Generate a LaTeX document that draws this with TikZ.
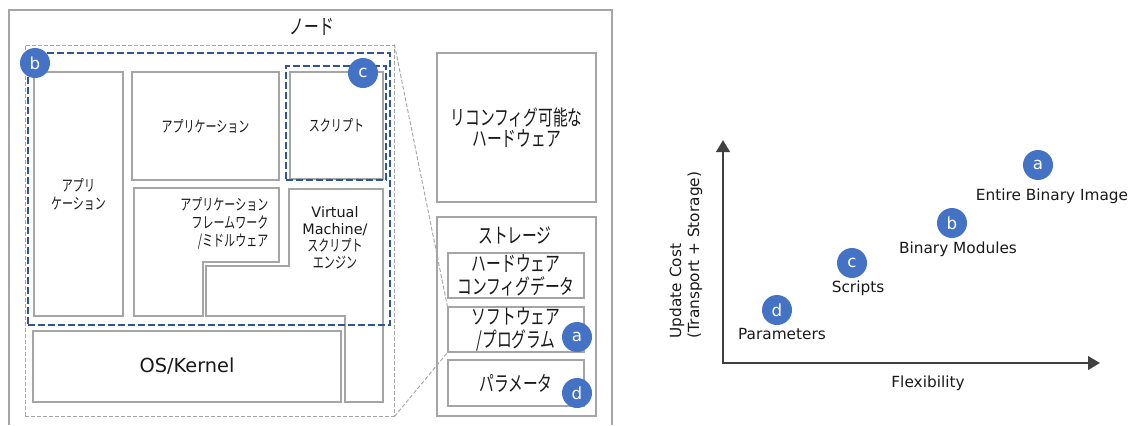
\documentclass[tikz,border=0pt]{standalone}
\usepackage{fontspec}
\setmainfont{DejaVu Sans}
\newfontfamily\jpfont[FakeStretch=0.7]{Noto Sans CJK JP}
\usetikzlibrary{arrows.meta,fit}
\definecolor{boxgray}{RGB}{165,165,165}
\definecolor{badgeblue}{RGB}{68,114,196}
\definecolor{dashblue}{RGB}{47,85,151}
\definecolor{axisgray}{RGB}{64,64,64}

\begin{document}
\begin{tikzpicture}[
        x=0.75pt, y=-0.75pt,
        box/.style={draw=boxgray, line width=0.9pt, inner sep=0pt},
        outline/.style={draw=boxgray, line width=0.9pt},
        jp_small/.style={font=\jpfont\fontsize{11.8}{13.5}\selectfont, align=center, text=black!90},
        jp_large/.style={font=\jpfont\fontsize{15.8}{17.5}\selectfont, align=center, text=black!90},
        latin_box/.style={font=\fontsize{10.8}{12.8}\selectfont, align=center, text=black!90},
        badge/.style={circle, fill=badgeblue, text=white, minimum size=22.5pt, inner sep=0pt, font=\fontsize{12.5}{12.5}\selectfont},
        blue_dashed/.style={draw=dashblue, line width=1.8pt, dash pattern=on 5pt off 2.5pt, inner sep=0pt},
        gray_dashed/.style={draw=boxgray, line width=0.7pt, dash pattern=on 3pt off 1.5pt},
        chart_label/.style={font=\fontsize{11.5}{13.5}\selectfont, text=black!90},
        axis/.style={draw=axisgray, line width=2.2pt, {Triangle[length=9pt, width=10pt]}-{Triangle[length=9pt, width=10pt]}}
    ]
	\useasboundingbox (0,0) rectangle (1137,425);

	\draw[outline] (9,425) -- (9,10) -- (612,10) -- (612,425);
	\node[jp_large] (node_title) at (312,27) {ノード};

	\node[box, fit={(34,72) (123,316)}] (app_left) {};
	\node[box, fit={(132,72) (279,180)}] (app_main) {};
	\node[box, fit={(290,72) (383,179)}] (script) {};
	\node[jp_small] (app_left_text) at (app_left) {アプリ\\ケーション};
	\node[jp_small] (app_main_text) at (app_main) {アプリケーション};
	\node[jp_small] (script_text) at (script) {スクリプト};
	\draw[outline] (134,188) -- (279,188) -- (279,262) -- (203,262) -- (203,316) -- (134,316) -- cycle;
	\node[jp_small, align=right, anchor=east] (framework) at (273,223) {アプリケーション\\フレームワーク\\/ミドルウェア};
	\draw[outline] (289,189) -- (383,189) -- (383,402) -- (345,402) -- (345,316) -- (206,316) -- (206,266) -- (289,266) -- cycle;
	\node[latin_box] (vm) at (335,238) {Virtual\\Machine/\\{\jpfont\fontsize{11.8}{12.8}\selectfont スクリプト}\\{\jpfont\fontsize{11.8}{12.8}\selectfont エンジン}};
	\node[box, fit={(33,331) (341,402)}] (os_kernel) {};
	\node[font=\fontsize{14.5}{14.5}\selectfont, text=black!90] (os_kernel_text) at (os_kernel) {OS/Kernel};

	\node[box, fit={(437,53) (596,202)}] (reconf) {};
	\node[jp_large, font=\jpfont\fontsize{15.8}{16}\selectfont] (reconf_text) at (reconf) {リコンフィグ可能な\\ハードウェア};
	\node[box, fit={(437,217) (596,416)}] (storage) {};
	\node[jp_large] (storage_title) at (515,235) {ストレージ};
	\node[box, fit={(448,253) (584,298)}] (hw_config) {};
	\node[box, fit={(448,307) (584,352)}] (prog) {};
	\node[box, fit={(448,360) (584,406)}] (param) {};
	\node[jp_large] (hw_config_text) at (hw_config) {ハードウェア\\コンフィグデータ};
	\node[jp_large] (prog_text) at (prog) {ソフトウェア\\/プログラム};
	\node[jp_large] (param_text) at (param) {パラメータ};

	\node[gray_dashed, inner sep=0pt, fit={(25,45) (394,416)}] (zoom_box) {};
	\draw[gray_dashed] (zoom_box.north east) -- (prog.north west);
	\draw[gray_dashed] (zoom_box.south east) -- (prog.south west);

	\node[blue_dashed, fit={(28,53) (390,325)}] (scope_b) {};
	\node[blue_dashed, fit={(286,66) (386,180)}] (scope_c) {};

	\node[badge] (badge_b) at (35,63) {b};
	\node[badge] (badge_c) at (363,73) {c};
	\node[badge] (badge_a) at (577,337) {a};
	\node[badge] (badge_d) at (577,393) {d};

	\coordinate (origin) at (723,363);
	\coordinate (y_end) at (723,140);
	\coordinate (x_end) at (1100,363);
	\draw[axis] (y_end) -- (origin) -- (x_end);
	\node[chart_label] (x_label) at (928,383) {Flexibility};
	\node[chart_label, rotate=90, align=left, anchor=west] (y_label) at (686,343) {Update Cost\\(Transport + Storage)};

	\node[badge] (pt_a) at (1038,165) {a};
	\node[badge] (pt_b) at (952,223) {b};
	\node[badge] (pt_c) at (852,263) {c};
	\node[badge] (pt_d) at (777,310) {d};
	\node[chart_label] (lbl_a) at (1052,196) {Entire Binary Image};
	\node[chart_label] (lbl_b) at (958,249) {Binary Modules};
	\node[chart_label] (lbl_c) at (858,288) {Scripts};
	\node[chart_label] (lbl_d) at (782,334) {Parameters};
\end{tikzpicture}
\end{document}
